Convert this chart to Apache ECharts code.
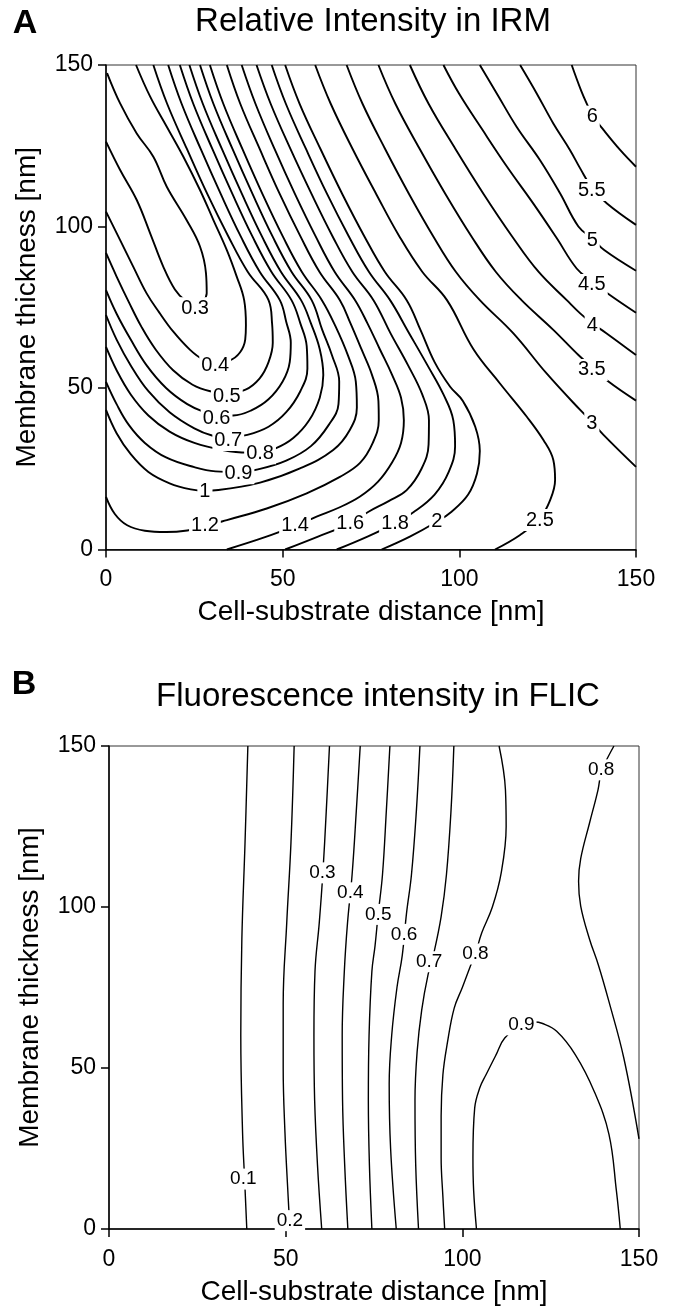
<!DOCTYPE html>
<html>
<head>
<meta charset="utf-8">
<script src="https://cdn.jsdelivr.net/npm/echarts@6/dist/echarts.min.js"></script>
<style>
html,body{margin:0;padding:0;background:#fff;}
#chart{width:675px;height:1307px;}
</style>
</head>
<body>
<div id="chart"></div>
<script>
// ---------- shared axis ticks ----------
const axisTicks = [0, 50, 100, 150];

// ---------- Panel A: Relative Intensity in IRM (contour polylines, [distance nm, thickness nm]) ----------
const irm03 = [[0,126.3],[4,117.5],[8.7,108.2],[12.5,97.9],[16.2,87.6],[19.5,80.5],[22.5,77],[25.2,75.8],[27.5,77],[28.5,79.3],[28.3,85.5],[26.6,93.8],[22.8,102],[17.2,112.3],[13.4,121.6],[8.7,128.8],[4,138.1],[0.3,147.5]];
const irm04 = [[0,104.6],[4,95.8],[7.7,87.6],[11.5,79.3],[15,73.5],[19,67.5],[23.8,61.8],[27.5,58.8],[30.9,57.8],[35,58.5],[37.9,61],[39.4,65],[39.6,69.5],[39.1,77.2],[37,84.5],[34.2,92.7],[30.4,102],[26.6,111.3],[21.9,121.6],[17.2,130.9],[12.5,140.2],[8.5,150]];
const irm05 = [[0,91.8],[3,84.5],[6.5,76.5],[10,69],[14,62],[19,55.5],[24.5,51],[29.5,49],[34.2,48.5],[39.5,49.5],[43.5,53],[46,58],[47.2,64],[47,70],[46,77.2],[40.1,86],[34.6,97],[28.7,110],[22.9,124],[17.3,138],[13.4,150]];
const irm06 = [[0,80.3],[3,73],[7,65],[11.5,57],[17,50],[23,45],[28,42.5],[31.3,41.5],[36,41.5],[41,43],[46,46.5],[50,52],[52,58],[52.3,64],[51,70.5],[49.2,77.2],[43.5,86],[38.1,97],[32.5,110],[26.8,124],[21.4,138],[17.6,150]];
const irm07 = [[0,72.6],[3,65],[7,57],[12,49],[18,42.5],[25,37.5],[30,35.3],[34.6,34.8],[40,35.5],[46,38],[51,42.5],[55,49],[57,56],[56.8,63],[55,70],[52.5,77.2],[46.8,86],[41.4,97],[35.8,110],[30.1,124],[24.7,138],[20.9,150]];
const irm08 = [[0,62.7],[3,55.5],[7,48],[12,41.5],[18,36.5],[25,33],[33,30.8],[40,30],[43.6,30.2],[48,31.3],[53,34.5],[57.5,40],[60.5,47],[61.5,54],[60.5,62],[58,70],[55.2,77.2],[49.5,86],[44.1,97],[38.5,110],[32.8,124],[27.4,138],[23.6,150]];
const irm09 = [[0,51.9],[3,45],[6.5,38.5],[11,33],[17,28.5],[25,25.5],[31,24.2],[37.5,24],[43,24.8],[51,27.5],[58,32],[63,38.5],[65.8,45],[66,52],[64,60],[61.2,68],[58.2,77.2],[52.5,86],[47.1,97],[41.5,110],[35.8,124],[30.4,138],[26.6,150]];
const irm10 = [[0,43.2],[3,36],[7,29.5],[12,24],[18,20.5],[24,18.6],[28,18.2],[31.8,18.4],[43.6,20.7],[54.9,25.1],[64.3,30.8],[69,37],[71,44],[70.7,52],[68.5,60],[65,69],[61.1,77.2],[55.4,86],[50,97],[44.3,110],[38.6,124],[33.2,138],[29.4,150]];
const irm12 = [[0,16.3],[2.5,11],[6,7.5],[11,5.8],[17,5.4],[23,5.9],[28,7.2],[34.2,9.1],[45.5,12.7],[56.8,17.4],[66.2,22.5],[71.9,26.8],[75.5,33],[77.2,40],[77.1,46],[75.3,54],[72.3,62],[69.2,70],[66.2,77.2],[60.4,86],[55,97],[49.2,110],[43.5,124],[38,138],[34.2,150]];
const irm14 = [[34.2,0],[45,3.8],[53.5,7.3],[59.6,10.2],[66,13],[71.9,16.4],[77,21],[81,27],[83.5,33],[84.3,40],[83.5,47],[81,54],[77.5,62],[74,70],[70.5,77.2],[64.7,86],[59.3,97],[53.5,110],[47.7,124],[42.3,138],[38.4,150]];
const irm16 = [[50.7,0],[60,4],[69.1,8.1],[74.3,11.7],[80,15],[85.1,18.4],[89.3,25],[91.3,32.5],[91.4,40],[89.5,48],[85.5,57],[80.5,67],[75.7,77.2],[69.7,86],[64.1,97],[58.2,110],[52.2,124],[46.6,138],[42.6,150]];
const irm18 = [[65.3,0],[74,4],[81.8,8.1],[87,11.5],[93,17],[97,24],[98.8,32],[98.3,40],[95.5,48],[91,57],[85.5,67.5],[80.4,77.2],[74.4,86],[68.7,97],[62.6,110],[56.6,124],[50.9,138],[46.9,150]];
const irm20 = [[78,0],[86,4],[93.6,8.6],[97.8,11.7],[102.5,17],[105,23.5],[105.8,30.5],[104.5,38],[101,46],[97.4,50.4],[93,58],[89,68],[85.1,77.2],[78.9,86],[73.1,97],[66.9,110],[60.7,124],[54.8,138],[50.7,150]];
const irm25 = [[110.1,0],[117.2,4.5],[122.8,9.6],[125.7,15.3],[127.1,21.5],[126.6,27.7],[123.8,33.9],[119.1,41.1],[111.5,51.4],[104,62],[96.5,77.2],[89.5,86],[83,97],[76.5,110],[69.8,124],[63.6,138],[59.2,150]];
const irm30 = [[68.1,150],[72.6,138],[79,124],[85.8,110],[92.6,97],[99,86],[105.8,77.2],[115.3,66.9],[124.7,54.5],[134.2,43.2],[137.5,39.6],[140.8,35.5],[150,25.6]];
const irm35 = [[77.1,150],[81.9,138],[88.8,124],[96.1,110],[103.4,97],[110.3,86],[117.6,77.2],[126.6,68],[133.7,60.2],[137.5,56.5],[142.2,52],[150,46.1]];
const irm40 = [[86,150],[91.3,138],[98.9,124],[106.9,110],[114.9,97],[122.4,86],[130.4,77.2],[134.2,73.1],[137.6,70],[141.7,66.9],[150,60.2]];
const irm45 = [[95.5,150],[100,141],[106.5,130],[113.5,118.5],[121,107],[127.5,96.5],[133.2,87],[137.5,83],[142.6,78.8],[150,73.3]];
const irm50 = [[105.8,150],[110.6,141.2],[116.2,130.9],[122.8,120.6],[128.5,110.3],[133.7,100],[137.6,96.3],[141,92.7],[150,86.3]];
const irm55 = [[117.2,150],[121.9,141.2],[126.6,131.9],[131.3,123.7],[134.2,118],[137.5,112],[141.7,107.2],[150,100.5]];
const irm60 = [[131.8,150],[134.5,142],[136.5,137],[137.6,134.5],[140.8,129.9],[145.5,123.7],[150,118.5]];
const irmLabels = [[25.2,74.7,'0.3'],[30.9,57.1,'0.4'],[34.2,47.3,'0.5'],[31.3,40.6,'0.6'],[34.6,33.9,'0.7'],[43.6,29.8,'0.8'],[37.5,23.6,'0.9'],[28,17.9,'1'],[28,7.3,'1.2'],[53.5,7.3,'1.4'],[69.1,8.1,'1.6'],[81.8,8.1,'1.8'],[93.6,8.6,'2'],[122.8,9.1,'2.5'],[137.5,39.1,'3'],[137.5,55.6,'3.5'],[137.6,69.5,'4'],[137.5,81.9,'4.5'],[137.6,95.8,'5'],[137.5,111.3,'5.5'],[137.6,134,'6']];

// ---------- Panel B: Fluorescence intensity in FLIC ----------
const flic01 = [[39.3,150],[38.5,120],[37.6,90],[37.3,60],[37.8,30],[38.4,15],[39,0]];
const flic02 = [[52.4,150],[51.5,120],[50.3,95],[49.3,70],[49.3,50],[49.8,30],[50.7,10],[51.2,0]];
const flic03 = [[62.4,150],[61.5,130],[60.5,110],[59.5,95],[58.3,80],[58,60],[58.2,40],[59,20],[60.2,0]];
const flic04 = [[71.1,150],[70,130],[68.8,110],[67.5,95],[66.6,80],[66,60],[66.1,40],[66.7,20],[67.6,0]];
const flic05 = [[79.5,150],[78.5,130],[77.4,110],[76.2,98],[75.3,88],[74.4,80],[73.6,60],[73.4,40],[73.7,20],[74.4,0]];
const flic06 = [[88,150],[87,130],[85.6,110],[84.2,98],[83,85],[81.5,75],[80,60],[79.3,45],[79.7,25],[81.3,0]];
const flic07 = [[97.6,150],[96.8,130],[95.5,110],[94,97],[92,86],[90.3,79],[88.5,68],[87.2,55],[86.6,40],[86.8,20],[87.6,0]];
const flic08a = [[110.4,150],[112.2,136.4],[112.4,125],[111,110.6],[108.5,100],[105.5,92],[103.7,85.5],[102.4,82],[100,75],[97.7,68.6],[95.8,58],[94.5,47.9],[94,35],[94,22.2],[94.5,10],[95,0]];
const flic08b = [[142.9,150],[140.5,145],[139.3,142],[138.4,136.4],[136,126.1],[133.5,115],[132.9,108],[133.5,100.3],[136,90],[138.5,82],[141.5,70.6],[145.7,53.1],[150,28]];
const flic09 = [[104,0],[103.2,12],[103,22.2],[103.5,37.6],[105,44],[106.7,47.9],[109.5,54],[112,59.3],[116.7,63.2],[120.5,64.3],[122.5,63.9],[126.7,61.4],[132,54.1],[137.3,42.8],[141.5,29.4],[143.6,11.9],[144.7,0]];
const flicLabels = [[38,15.5,'0.1'],[51.2,2.6,'0.2'],[60.4,110.6,'0.3'],[68.3,104.4,'0.4'],[76.2,97.7,'0.5'],[83.5,91.5,'0.6'],[90.6,83,'0.7'],[103.7,85.4,'0.8'],[116.7,63.4,'0.9'],[139.3,142.6,'0.8']];

// ---------- build options ----------
const FONT = '"Liberation Sans", Arial, Helvetica, sans-serif';
const irmLines = [irm03,irm04,irm05,irm06,irm07,irm08,irm09,irm10,irm12,irm14,irm16,irm18,irm20,irm25,irm30,irm35,irm40,irm45,irm50,irm55,irm60];
const flicLines = [flic01,flic02,flic03,flic04,flic05,flic06,flic07,flic08a,flic08b,flic09];

function makeAxis(kind, idx, name, gap) {
  return {
    gridIndex: idx, type: 'value', min: axisTicks[0], max: axisTicks[axisTicks.length-1], interval: 50,
    axisLine: {show: true, onZero: false, lineStyle: {color: '#000', width: 1.5}},
    axisTick: {show: true, length: 8, inside: false, lineStyle: {color: '#000', width: 1.5}},
    axisLabel: {fontSize: 23, color: '#000', fontFamily: FONT, margin: kind === 'x' ? 19 : 13},
    splitLine: {show: false},
    name: name, nameLocation: 'middle', nameGap: gap,
    nameTextStyle: {fontSize: 28, color: '#000', fontFamily: FONT}
  };
}

function lineSeries(data, idx, w) {
  return {type: 'line', xAxisIndex: idx, yAxisIndex: idx, data: data, showSymbol: false, symbol: 'none',
    smooth: 0.4, lineStyle: {color: '#000', width: w}, silent: true, z: 2, animation: false};
}
function labelSeries(data, idx, fs) {
  return {type: 'scatter', xAxisIndex: idx, yAxisIndex: idx, data: data, symbolSize: 1,
    itemStyle: {color: 'rgba(255,255,255,0)', opacity: 1}, z: 5, silent: true, animation: false,
    label: {show: true, position: 'inside', formatter: p => p.value[2], fontSize: fs, color: '#000',
      opacity: 1, textBorderWidth: 0, fontFamily: FONT, backgroundColor: '#fff', padding: [1, 2]}};
}

const series = [];
irmLines.forEach(d => series.push(lineSeries(d, 0, 1.9)));
series.push(labelSeries(irmLabels, 0, 20));
flicLines.forEach(d => series.push(lineSeries(d, 1, 1.4)));
series.push(labelSeries(flicLabels, 1, 19));

const option = {
  backgroundColor: '#fff',
  animation: false,
  grid: [
    {left: 106, top: 65, width: 530, height: 484.5, show: true, borderColor: '#333', borderWidth: 1, backgroundColor: 'transparent'},
    {left: 109, top: 746, width: 530, height: 485.5, show: true, borderColor: '#333', borderWidth: 1, backgroundColor: 'transparent'}
  ],
  xAxis: [makeAxis('x', 0, 'Cell-substrate distance [nm]', 49), makeAxis('x', 1, 'Cell-substrate distance [nm]', 49)],
  yAxis: [makeAxis('y', 0, 'Membrane thickness [nm]', 65), makeAxis('y', 1, 'Membrane thickness [nm]', 65)],
  graphic: [
    {type: 'text', x: 25, y: 24, style: {text: 'A', fontSize: 34, fontWeight: 'bold', fontFamily: FONT, fill: '#000', align: 'center', verticalAlign: 'middle', textAlign: 'center', textVerticalAlign: 'middle'}},
    {type: 'text', x: 373, y: 22, style: {text: 'Relative Intensity in IRM', fontSize: 33, fontFamily: FONT, fill: '#000', align: 'center', verticalAlign: 'middle', textAlign: 'center', textVerticalAlign: 'middle'}},
    {type: 'text', x: 24, y: 685, style: {text: 'B', fontSize: 34, fontWeight: 'bold', fontFamily: FONT, fill: '#000', align: 'center', verticalAlign: 'middle', textAlign: 'center', textVerticalAlign: 'middle'}},
    {type: 'text', x: 378, y: 697, style: {text: 'Fluorescence intensity in FLIC', fontSize: 33, fontFamily: FONT, fill: '#000', align: 'center', verticalAlign: 'middle', textAlign: 'center', textVerticalAlign: 'middle'}}
  ],
  series: series
};

const chart = echarts.init(document.getElementById('chart'), null, {renderer: 'canvas'});
chart.setOption(option);
</script>
</body>
</html>
